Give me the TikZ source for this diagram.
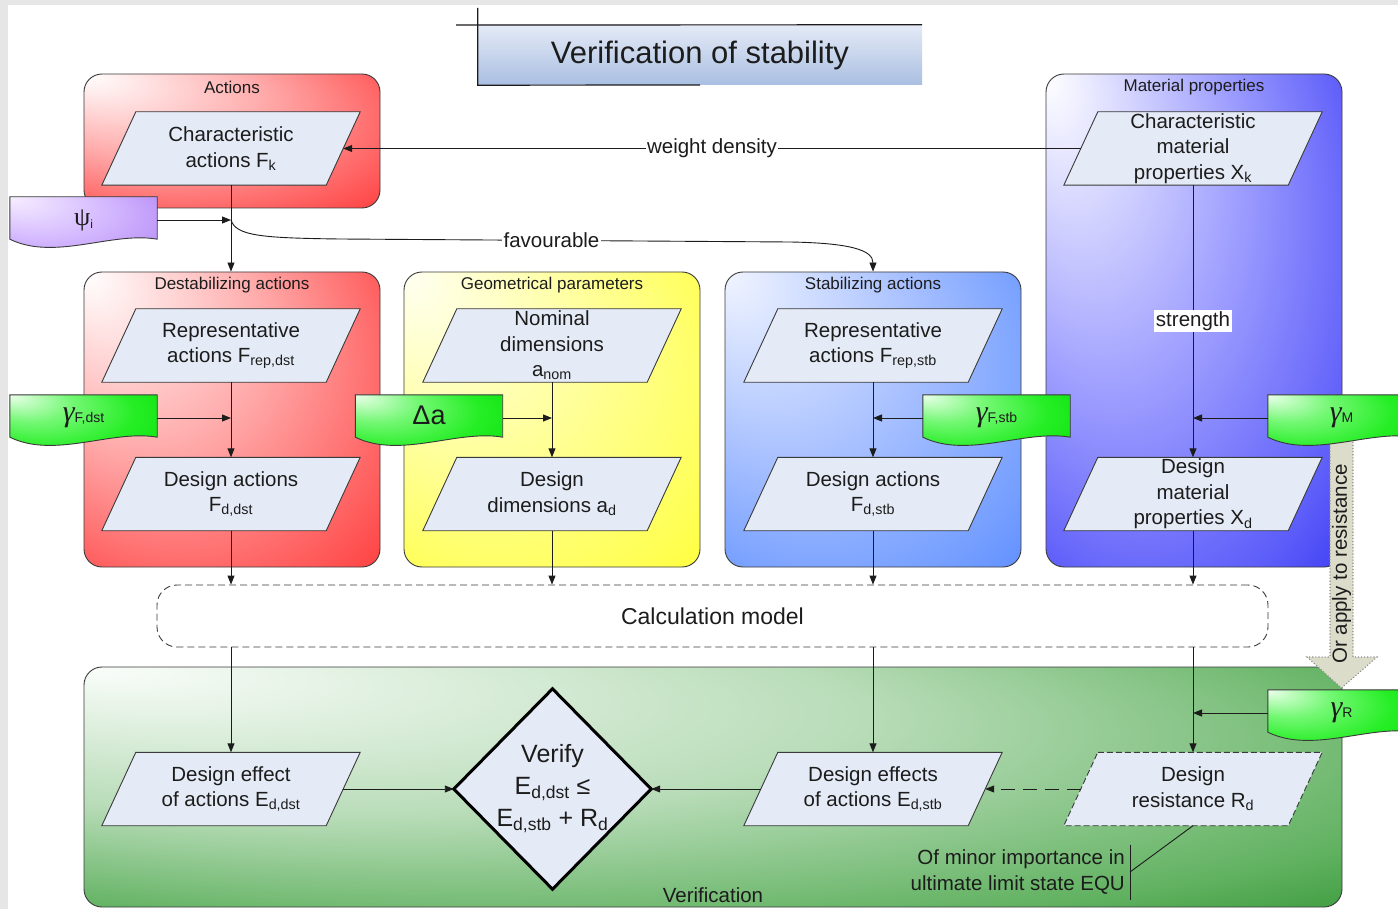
\documentclass[tikz,border=0pt]{standalone}
\usepackage{fontspec}
\setmainfont{Liberation Sans}
\newfontfamily\greekf{Liberation Serif}
\usetikzlibrary{arrows.meta,calc}
\pgfdeclarelayer{bg}
\pgfdeclarelayer{mid}
\pgfsetlayers{bg,mid,main}

\definecolor{ink}{HTML}{1C1C1C}
\definecolor{parafill}{HTML}{E5EBF6}
\definecolor{edge}{HTML}{3A3A3A}
\definecolor{frame}{HTML}{E6E6E6}
\definecolor{beige}{HTML}{DCDCCA}
\definecolor{titleT}{HTML}{E4EAF6}
\definecolor{titleB}{HTML}{AABFE2}

% colours for the corner-lit fills
\definecolor{red0}{HTML}{FFFFFF}\definecolor{red1}{HTML}{FFA8A8}
\definecolor{red2}{HTML}{FF5A5A}\definecolor{red3}{HTML}{FF3C3C}
\definecolor{yel0}{HTML}{FFFFF2}\definecolor{yel1}{HTML}{FFFF9C}
\definecolor{yel2}{HTML}{FFFF58}\definecolor{yel3}{HTML}{FFFF3A}
\definecolor{stb0}{HTML}{F0F4FF}\definecolor{stb1}{HTML}{AAC2FF}
\definecolor{stb2}{HTML}{749EFF}\definecolor{stb3}{HTML}{5E8EFF}
\definecolor{mat0}{HTML}{FFFFFF}\definecolor{mat1}{HTML}{A2A2FF}
\definecolor{mat2}{HTML}{5C5CFA}\definecolor{mat3}{HTML}{3A3AF2}
\definecolor{ver0}{HTML}{FAFDFA}\definecolor{ver1}{HTML}{B8DCB8}
\definecolor{ver2}{HTML}{62B262}\definecolor{ver3}{HTML}{3C9C3C}
\definecolor{grn0}{HTML}{ECFFEC}\definecolor{grn1}{HTML}{74F874}
\definecolor{grn2}{HTML}{26EE26}\definecolor{grn3}{HTML}{08E008}
\definecolor{pur0}{HTML}{F6EEFF}\definecolor{pur1}{HTML}{D6BCFF}
\definecolor{pur2}{HTML}{BC94F8}\definecolor{pur3}{HTML}{B084F2}

% radial fill lit from the upper left corner (the path box spans -25bp..25bp)
\newcommand\cornershading[1]{%
  \pgfdeclareradialshading{#1lit}{\pgfpoint{-25bp}{25bp}}{%
    color(0bp)=(#10); color(20.7bp)=(#11); color(36.6bp)=(#12);
    color(42.5bp)=(#13); color(50bp)=(#13)}}
\cornershading{red}\cornershading{yel}\cornershading{stb}\cornershading{mat}
\cornershading{ver}\cornershading{pur}
\pgfdeclareradialshading{grnlit}{\pgfpoint{-25bp}{25bp}}{%
  color(0bp)=(grn0); color(14bp)=(grn1); color(28bp)=(grn2);
  color(42.5bp)=(grn3); color(50bp)=(grn3)}

\newcommand\fsz[1]{\fontsize{#1}{#1}\selectfont}
\newcommand\gam[1]{{\greekf\itshape\fsz{30}γ}\raisebox{-1pt}{\fsz{14}#1}}

% parallelogram drawn round a rectangular node of the same mid-height width
\newcommand\paraof[2][]{\path[parashape,#1]
  ($(#2.north west)+(17,0)$) -- ($(#2.north east)+(17,0)$) --
  ($(#2.south east)+(-17,0)$) -- ($(#2.south west)+(-17,0)$) -- cycle;}
% tag with a wavy lower edge
\newcommand\tagof[2]{\path[#2]
  (#1.north west) -- (#1.north east) -- ([yshift=4pt]#1.south east)
  .. controls ([xshift=-45pt,yshift=12pt]#1.south east) and ([xshift=45pt,yshift=-18pt]#1.south west)
  .. ([yshift=4pt]#1.south west) -- cycle;}

\tikzset{
  x=1pt, y=-1pt,
  txt/.style={text=ink, font=\fontsize{20.5}{25.5}\selectfont, align=center, inner sep=0pt},
  para/.style={txt, minimum width=224pt, minimum height=73pt},
  parashape/.style={fill=parafill, draw=edge, line width=0.9pt, line join=miter},
  grp/.style={rounded corners=18pt, draw=edge, line width=0.9pt, inner sep=0pt},
  col/.style={minimum width=296pt, minimum height=295pt},
  lit/.style={shade, shading=#1lit},
  greentag/.style={draw=edge, line width=0.9pt, lit=grn},
  purpletag/.style={draw=edge, line width=0.9pt, lit=pur},
  grplabel/.style={text=ink, font=\fontsize{17}{20}\selectfont, inner sep=0pt},
  conn/.style={draw=ink, line width=0.9pt},
  arr/.style={conn, -{Triangle[length=9pt,width=7pt]}},
  tagbox/.style={text=ink, minimum width=147pt, minimum height=46pt, inner sep=0pt},
  lbl/.style={txt, fill=white, inner sep=1.5pt},
}

\begin{document}
\begin{tikzpicture}
\useasboundingbox (0,0) rectangle (1398,909);

% ---------- backgrounds and group boxes ----------
\begin{pgfonlayer}{bg}
  \fill[white] (0,0) rectangle (1398,909);
  \fill[frame] (0,0) rectangle (8,909);
  \fill[frame] (0,0) rectangle (1398,5);
  \node[grp, lit=red, minimum width=296pt, minimum height=134pt] (actions) at (232,141) {};
  \node[grp, lit=red, col] (destab) at (232,419.5) {};
  \node[grp, lit=yel, col] (geom) at (552,419.5) {};
  \node[grp, lit=stb, col] (stab) at (873,419.5) {};
  \node[grp, lit=mat, minimum width=296pt, minimum height=493pt] (mat) at (1194,320.5) {};
  \node[grp, lit=ver, minimum width=1258pt, minimum height=240pt] (verif) at (713,787) {};
  \node[grp, fill=white, dash pattern=on 7pt off 4pt, rounded corners=20pt,
        minimum width=1111pt, minimum height=62pt, text=ink,
        font=\fontsize{23}{26}\selectfont] (calc) at (712.5,616) {Calculation model};
  % block arrow "Or apply to resistance"
  \path[fill=beige, draw=black!45, dotted, line width=1.1pt]
    (1330,440) -- (1353,440) -- (1353,657) -- (1377,657) -- (1341.5,688)
    -- (1307,657) -- (1330,657) -- cycle;
\end{pgfonlayer}

% ---------- title ----------
\node[minimum width=444pt, minimum height=60pt, top color=titleT, bottom color=titleB,
      inner sep=0pt, text=ink, font=\fontsize{31}{36}\selectfont] (title) at (700,55)
      {Verification of stability};
\draw[conn, line width=1.2pt] (456,25) -- (title.north east);
\draw[conn, line width=1.2pt] (title.north west |- 0,8) -- (title.south west) -- (700,85);

% ---------- group labels ----------
\node[grplabel] at ([yshift=-14pt]actions.north) {Actions};
\node[grplabel] at ([yshift=-14pt]destab.north) {Destabilizing actions};
\node[grplabel] at ([yshift=-14pt]geom.north) {Geometrical parameters};
\node[grplabel] at ([yshift=-14pt]stab.north) {Stabilizing actions};
\node[grplabel] at ([yshift=-14pt]mat.north) {Material properties};
\node[txt] at ([yshift=12pt]verif.south) {Verification};

% ---------- data nodes ----------
\node[para] (fk)   at (231,148.5)  {Characteristic\\actions F\textsubscript{k}};
\node[para] (xk)   at (1193,148.5) {Characteristic\\material\\properties X\textsubscript{k}};
\node[para] (frd)  at (231,345.5)  {Representative\\actions F\textsubscript{rep,dst}};
\node[para] (anom) at (552,345.5)  {Nominal\\dimensions\\a\textsubscript{nom}};
\node[para] (frs)  at (873,345.5)  {Representative\\actions F\textsubscript{rep,stb}};
\node[para] (fdd)  at (231,494)    {Design actions\\F\textsubscript{d,dst}};
\node[para] (ad)   at (552,494)    {Design\\dimensions a\textsubscript{d}};
\node[para] (fds)  at (873,494)    {Design actions\\F\textsubscript{d,stb}};
\node[para] (xd)   at (1193,494)   {Design\\material\\properties X\textsubscript{d}};
\node[para] (edd)  at (231,789)    {Design effect\\of actions E\textsubscript{d,dst}};
\node[para] (eds)  at (873,789)    {Design effects\\of actions E\textsubscript{d,stb}};
\node[para] (rd)   at (1193,789)   {Design\\resistance R\textsubscript{d}};
\node[txt, font=\fontsize{25}{32}\selectfont, minimum width=197pt, minimum height=200pt]
     (ver) at (552.5,789) {Verify\\E\textsubscript{d,dst} ≤\\E\textsubscript{d,stb} + R\textsubscript{d}};

% ---------- partial factor tags ----------
\node[tagbox] (psi) at (83.5,220)   {{\greekf\fsz{26}ψ}\raisebox{-3pt}{\fsz{12}i}};
\node[tagbox] (gfd) at (83.5,418)   {\gam{F,dst}};
\node[tagbox] (da)  at (429,418)    {\raisebox{5pt}{\fsz{27}Δa}};
\node[tagbox] (gfs) at (996.5,418)  {\gam{F,stb}};
\node[tagbox] (gm)  at (1341.5,418) {\gam{M}};
\node[tagbox] (gr)  at (1341.5,713) {\gam{R}};

\node[txt, rotate=90] (oar) at (1341.5,564) {Or apply to resistance};

% ---------- shapes behind the texts ----------
\begin{pgfonlayer}{mid}
  \foreach \n in {fk,xk,frd,anom,frs,fdd,ad,fds,xd,edd,eds} {\paraof{\n}}
  \paraof[dash pattern=on 6pt off 3pt]{rd}
  \path[fill=parafill, draw=black, line width=3pt, line join=miter]
    (ver.north) -- (ver.east) -- (ver.south) -- (ver.west) -- cycle;
  \tagof{psi}{purpletag}
  \foreach \n in {gfd,da,gfs,gm,gr} {\tagof{\n}{greentag}}
\end{pgfonlayer}

% ---------- connectors ----------
\draw[arr] (xk.west) -- node[lbl] {weight density} (fk.east);
\draw[arr] (fk.south) -- (fk.south |- destab.north);
\draw[arr] (psi.east) -- (psi.east -| fk.south);
\draw[arr] (fk.south |- psi.east) .. controls (236,236) and (262,238) .. (340,239)
  -- node[lbl, pos=0.47] {favourable} (790,242)
  .. controls (850,243) and (873,250) .. (stab.north);

\draw[arr] (frd.south) -- (fdd.north);
\draw[arr] (anom.south) -- (ad.north);
\draw[arr] (frs.south) -- (fds.north);
\draw[arr] (xk.south) -- node[lbl] {strength} (xd.north);

\draw[arr] (gfd.east) -- (gfd.east -| fdd.north);
\draw[arr] (da.east) -- (da.east -| ad.north);
\draw[arr] (gfs.west) -- (gfs.west -| fds.north);
\draw[arr] (gm.west) -- (gm.west -| xd.north);

\foreach \n in {fdd,ad,fds,xd} {\draw[arr] (\n.south) -- (\n.south |- calc.north);}
\foreach \n in {edd,eds,rd} {\draw[arr] (calc.south -| \n.north) -- (\n.north);}

\draw[arr] (gr.west) -- (gr.west -| rd.north);
\draw[arr] (edd.east) -- (ver.west);
\draw[arr] (eds.west) -- (ver.east);
\draw[arr, dash pattern=on 14pt off 8pt] (rd.west) -- (eds.east);

% ---------- annotation ----------
\node[txt, align=right, anchor=east] (note) at (1125,872)
     {Of minor importance in\\ultimate limit state EQU};
\draw[conn] ([xshift=5pt,yshift=5pt]note.north east) -- ([xshift=5pt,yshift=-6pt]note.south east);
\draw[conn] ([xshift=5pt]note.east) -- (rd.south);
\end{tikzpicture}
\end{document}
